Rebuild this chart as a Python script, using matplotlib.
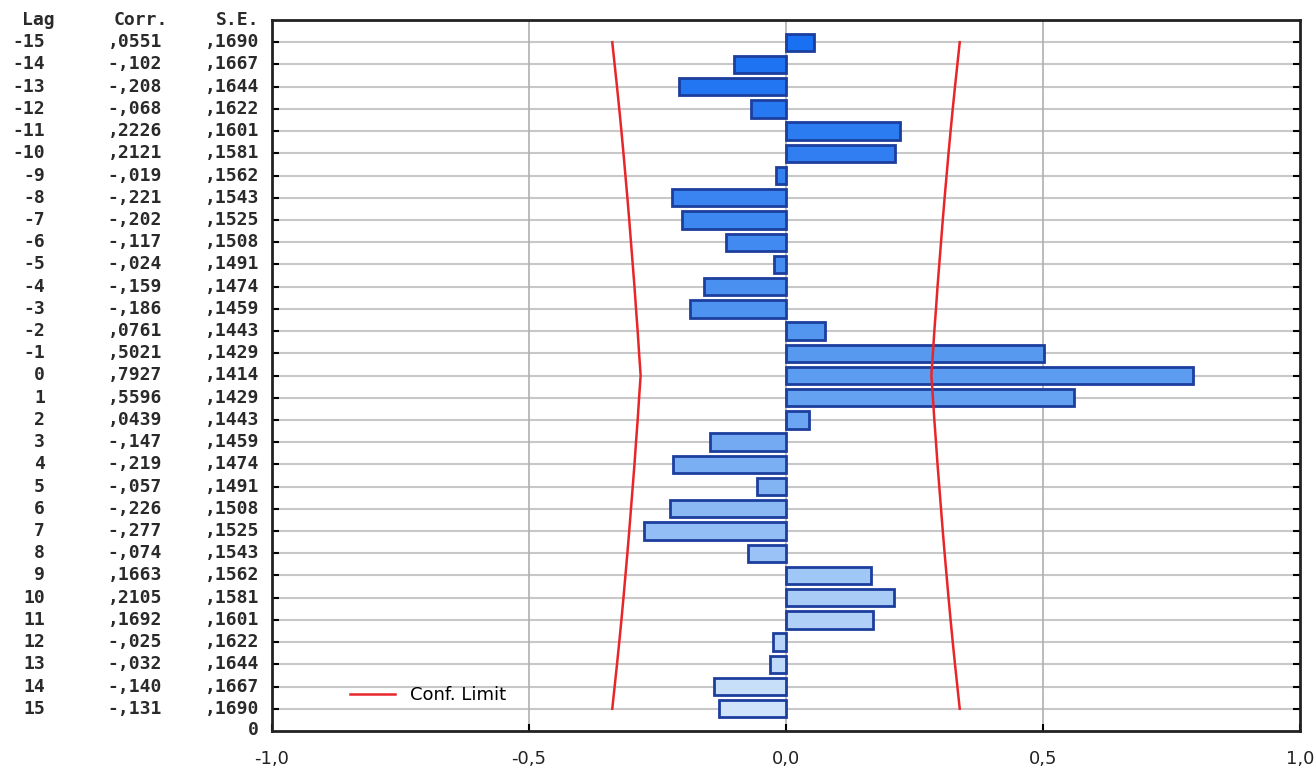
import matplotlib.pyplot as plt
import matplotlib.colors as mcolors
import numpy as np

# данные кросс-корреляции
lags = list(range(-15, 16))
corr = [0.0551, -0.102, -0.208, -0.068, 0.2226, 0.2121, -0.019, -0.221, -0.202, -0.117,
        -0.024, -0.159, -0.186, 0.0761, 0.5021, 0.7927, 0.5596, 0.0439, -0.147, -0.219,
        -0.057, -0.226, -0.277, -0.074, 0.1663, 0.2105, 0.1692, -0.025, -0.032, -0.140, -0.131]
se = [0.1690, 0.1667, 0.1644, 0.1622, 0.1601, 0.1581, 0.1562, 0.1543, 0.1525, 0.1508,
      0.1491, 0.1474, 0.1459, 0.1443, 0.1429, 0.1414, 0.1429, 0.1443, 0.1459, 0.1474,
      0.1491, 0.1508, 0.1525, 0.1543, 0.1562, 0.1581, 0.1601, 0.1622, 0.1644, 0.1667, 0.1690]
corr_text = [",0551", "-,102", "-,208", "-,068", ",2226", ",2121", "-,019", "-,221", "-,202", "-,117",
             "-,024", "-,159", "-,186", ",0761", ",5021", ",7927", ",5596", ",0439", "-,147", "-,219",
             "-,057", "-,226", "-,277", "-,074", ",1663", ",2105", ",1692", "-,025", "-,032", "-,140", "-,131"]
se_text = [",1690", ",1667", ",1644", ",1622", ",1601", ",1581", ",1562", ",1543", ",1525", ",1508",
           ",1491", ",1474", ",1459", ",1443", ",1429", ",1414", ",1429", ",1443", ",1459", ",1474",
           ",1491", ",1508", ",1525", ",1543", ",1562", ",1581", ",1601", ",1622", ",1644", ",1667", ",1690"]
xticks = [-1.0, -0.5, 0.0, 0.5, 1.0]
xtick_labels = ["-1,0", "-0,5", "0,0", "0,5", "1,0"]

n = len(lags)
ypos = np.arange(n, 0, -1)  # lag -15 сверху

fig = plt.figure(figsize=(13.14, 7.72), dpi=100)
ax = fig.add_axes([272 / 1314, 1 - 731 / 772, 1028 / 1314, 711 / 772])

# градиент цвета столбцов сверху вниз
cmap = mcolors.LinearSegmentedColormap.from_list("bl", ["#1a70f2", "#5c9cf0", "#cfe3fb"])
colors = [cmap(i / (n - 1)) for i in range(n)]

ax.barh(ypos, corr, height=0.78, color=colors, edgecolor="#1c3f9e", linewidth=2, zorder=3)

# доверительные границы +-2*S.E.
limit = 2 * np.array(se)
ax.plot(limit, ypos, color="#e8262a", lw=1.8, zorder=4, label="Conf. Limit")
ax.plot(-limit, ypos, color="#e8262a", lw=1.8, zorder=4)

for y in ypos:
    ax.axhline(y, color="#c8c8c8", lw=1.5, zorder=1)
for x in [-0.5, 0.0, 0.5]:
    ax.axvline(x, color="#b0b0b0", lw=1.2, zorder=1)

ax.set_xlim(-1, 1)
ax.set_ylim(0, 32)
ax.set_xticks(xticks)
ax.set_xticklabels(xtick_labels, fontsize=13, color="#222222")
ax.set_yticks(ypos)
ax.set_yticklabels([])
ax.tick_params(axis="y", direction="in", length=5, width=1.5, left=True, right=True)
ax.tick_params(axis="x", direction="in", length=5, width=1.5, pad=14)
for s in ax.spines.values():
    s.set_linewidth(2)
    s.set_color("#222222")

# левая таблица
tf = dict(fontsize=13, family="DejaVu Sans Mono", fontweight="bold", color="#2a2a2a",
          va="center", ha="right", clip_on=False)
trans = ax.get_yaxis_transform()


def fx(px):
    return (px - 272) / 1028


ax.text(fx(259), 0.05, "0", transform=trans, **tf)
ax.text(fx(55), 32, "Lag", transform=trans, **tf)
ax.text(fx(168), 32, "Corr.", transform=trans, **tf)
ax.text(fx(259), 32, "S.E.", transform=trans, **tf)
for y, l, c, s in zip(ypos, lags, corr_text, se_text):
    ax.text(fx(45), y, str(l), transform=trans, **tf)
    ax.text(fx(162), y, c, transform=trans, **tf)
    ax.text(fx(259), y, s, transform=trans, **tf)

ax.legend(loc="lower left", bbox_to_anchor=(0.06, 0.015), frameon=False, fontsize=13,
          handlelength=2.5)

fig.savefig("out.png", dpi=100)
